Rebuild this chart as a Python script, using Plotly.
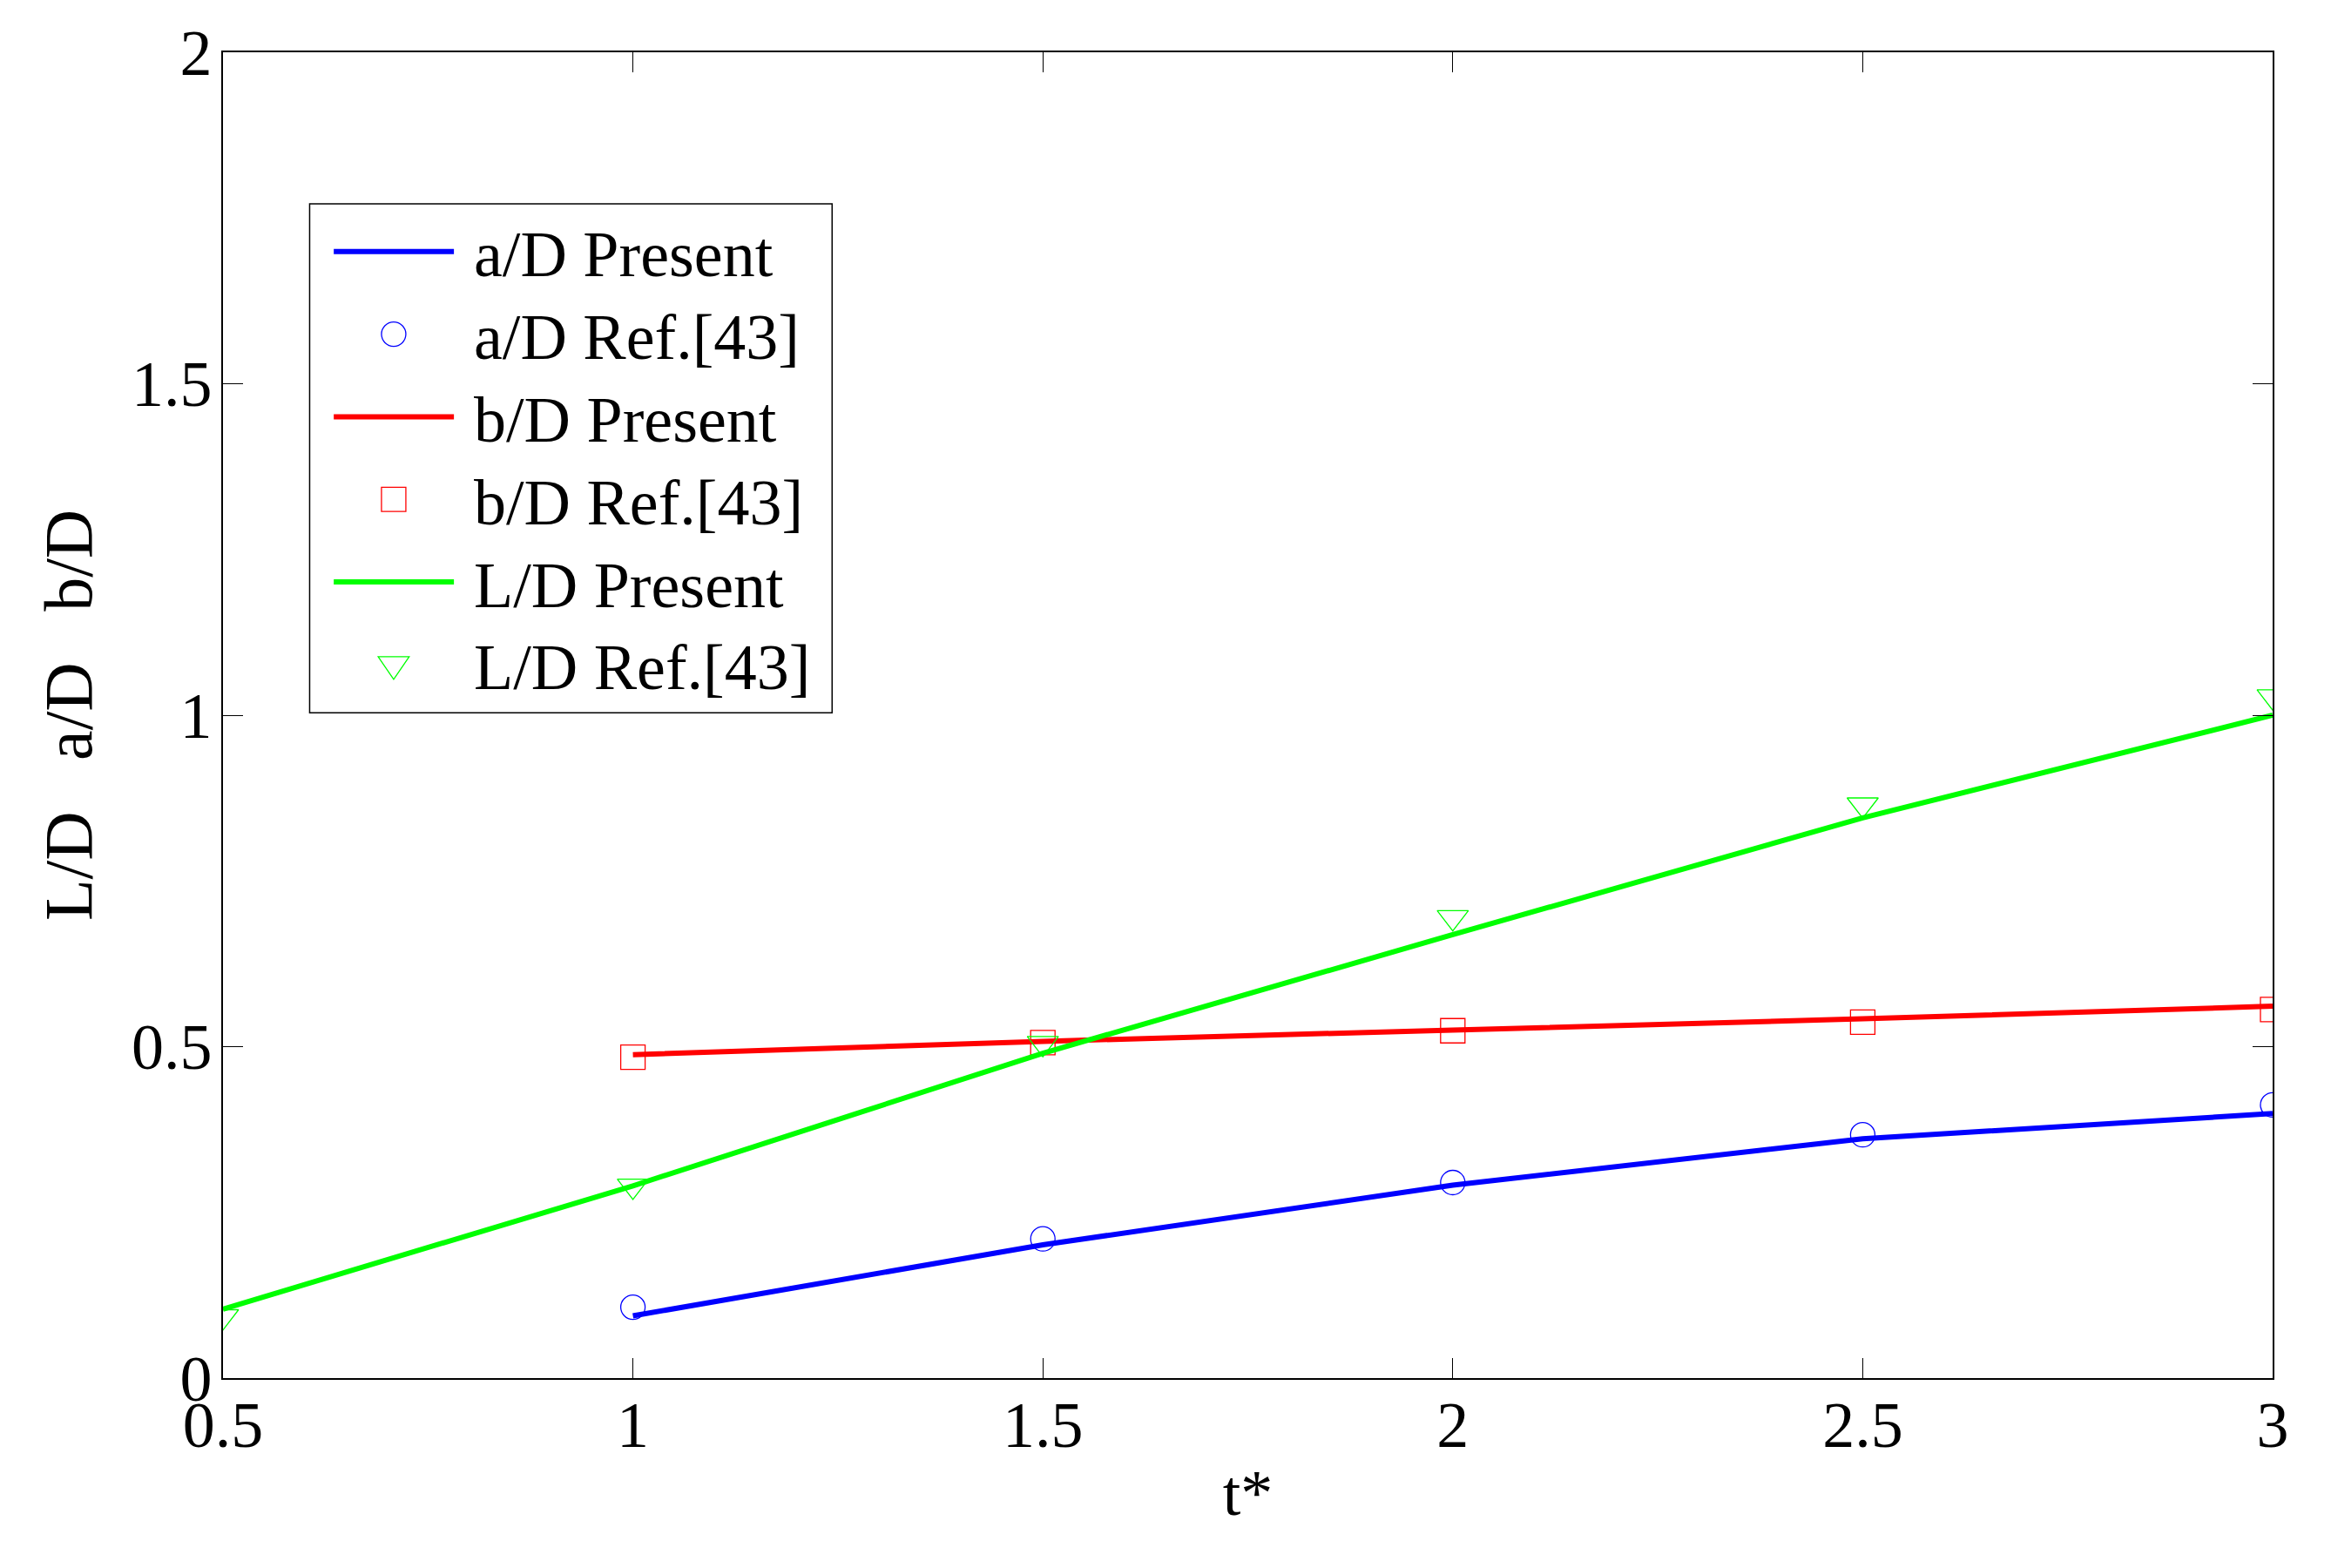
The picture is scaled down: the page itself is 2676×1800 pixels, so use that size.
import plotly.graph_objects as go

# ---- data ----
t_ab = [1.0, 1.5, 2.0, 2.5, 3.0]
t_L = [0.5, 1.0, 1.5, 2.0, 2.5, 3.0]

a_present = [0.094, 0.201, 0.291, 0.361, 0.399]
a_ref = [0.107, 0.210, 0.295, 0.367, 0.412]

b_present = [0.488, 0.508, 0.525, 0.542, 0.561]
b_ref = [0.484, 0.506, 0.524, 0.537, 0.556]

L_present = [0.104, 0.290, 0.490, 0.669, 0.845, 1.000]
L_ref = [0.093, 0.290, 0.505, 0.695, 0.865, 1.028]

x_ticks = [0.5, 1, 1.5, 2, 2.5, 3]
x_tick_labels = ["0.5", "1", "1.5", "2", "2.5", "3"]
y_ticks = [0, 0.5, 1, 1.5, 2]
y_tick_labels = ["0", "0.5", "1", "1.5", "2"]

legend_names = ["a/D Present", "a/D Ref.[43]", "b/D Present",
                "b/D Ref.[43]", "L/D Present", "L/D Ref.[43]"]

BLUE = "#0000FF"
RED = "#FF0000"
GREEN = "#00FF00"
FONT = "Liberation Serif"
FS = 74
LW = 6

# page geometry (the page body adds an 8px offset)
W, H = 2676, 1800
OFF = 8
PL, PR, PT, PB = 255.5, 2609.3, 51.0, 1582.3
PW, PH = PR - PL, PB - PT


def fx(px):
    return (px - PL) / PW


def fy(py):
    return (PB - py) / PH


fig = go.Figure()

fig.add_trace(go.Scatter(x=t_ab, y=a_present, mode="lines", name=legend_names[0],
                         line=dict(color=BLUE, width=LW)))
fig.add_trace(go.Scatter(x=t_ab, y=a_ref, mode="markers", name=legend_names[1],
                         marker=dict(symbol="circle-open", size=28, color=BLUE,
                                     line=dict(color=BLUE, width=1.3))))
fig.add_trace(go.Scatter(x=t_ab, y=b_present, mode="lines", name=legend_names[2],
                         line=dict(color=RED, width=LW)))
fig.add_trace(go.Scatter(x=t_ab, y=b_ref, mode="markers", name=legend_names[3],
                         marker=dict(symbol="square-open", size=28, color=RED,
                                     line=dict(color=RED, width=1.3))))
fig.add_trace(go.Scatter(x=t_L, y=L_present, mode="lines", name=legend_names[4],
                         line=dict(color=GREEN, width=LW)))
fig.add_trace(go.Scatter(x=t_L, y=L_ref, mode="markers", name=legend_names[5],
                         marker=dict(symbol="triangle-down-open", size=31, color=GREEN,
                                     line=dict(color=GREEN, width=1.3))))

axis_common = dict(
    showline=True, linecolor="black", linewidth=1.5, mirror="ticks",
    ticks="inside", ticklen=23, tickwidth=1, tickcolor="black",
    showgrid=False, zeroline=False,
    tickfont=dict(family=FONT, size=FS, color="black"),
)

fig.update_xaxes(range=[0.5, 3], tickvals=x_ticks, ticktext=x_tick_labels,
                 ticklabelstandoff=-12,
                 title=dict(text="t*", font=dict(family=FONT, size=FS, color="black"),
                            standoff=12),
                 **axis_common)
fig.update_yaxes(range=[0, 2], tickvals=y_ticks, ticktext=y_tick_labels,
                 ticklabelstandoff=-4,
                 title=dict(text="L/D\u00a0\u00a0 a/D\u00a0\u00a0 b/D",
                            font=dict(family=FONT, size=78, color="black"),
                            standoff=20),
                 **axis_common)

# ---- hand-drawn legend (box, glyphs, labels) ----
shapes = []
annotations = []
LEG_L, LEG_R, LEG_T, LEG_B = 355, 955, 226, 814
shapes.append(dict(type="rect", xref="paper", yref="paper",
                   x0=fx(LEG_L), x1=fx(LEG_R), y0=fy(LEG_B), y1=fy(LEG_T),
                   line=dict(color="black", width=1.5), fillcolor="white", layer="above"))
row0, dy = 281.2, 95.4
line_x0, line_x1, mk_x, txt_x = 382.7, 520.7, 451.5, 541.7
colors = [BLUE, BLUE, RED, RED, GREEN, GREEN]
for i, name in enumerate(legend_names):
    cy = row0 + i * dy
    c = colors[i]
    if i % 2 == 0:
        shapes.append(dict(type="line", xref="paper", yref="paper",
                           x0=fx(line_x0), x1=fx(line_x1), y0=fy(cy), y1=fy(cy),
                           line=dict(color=c, width=LW), layer="above"))
    elif i == 1:
        r = 14
        shapes.append(dict(type="circle", xref="paper", yref="paper",
                           x0=fx(mk_x - r), x1=fx(mk_x + r), y0=fy(cy + r), y1=fy(cy - r),
                           line=dict(color=c, width=1.3), layer="above"))
    elif i == 3:
        r = 14
        shapes.append(dict(type="rect", xref="paper", yref="paper",
                           x0=fx(mk_x - r), x1=fx(mk_x + r), y0=fy(cy + r), y1=fy(cy - r),
                           line=dict(color=c, width=1.3), layer="above"))
    else:
        hw, top, bot = 17.8, cy - 9, cy + 17
        path = (f"M {fx(mk_x - hw)},{fy(top)} L {fx(mk_x + hw)},{fy(top)} "
                f"L {fx(mk_x)},{fy(bot)} Z")
        shapes.append(dict(type="path", xref="paper", yref="paper", path=path,
                           line=dict(color=c, width=1.3), layer="above"))
    annotations.append(dict(text=name, xref="paper", yref="paper",
                            x=fx(txt_x), y=fy(cy + 3.5), xanchor="left", yanchor="middle",
                            showarrow=False,
                            font=dict(family=FONT, size=FS, color="black")))

fig.update_layout(
    width=W, height=H,
    margin=dict(l=PL - OFF, r=W - PR + OFF, t=PT - OFF, b=H - PB + OFF),
    paper_bgcolor="white", plot_bgcolor="white",
    font=dict(family=FONT, size=FS, color="black"),
    showlegend=False,
    shapes=shapes,
    annotations=annotations,
)

fig.write_html("out.html")
